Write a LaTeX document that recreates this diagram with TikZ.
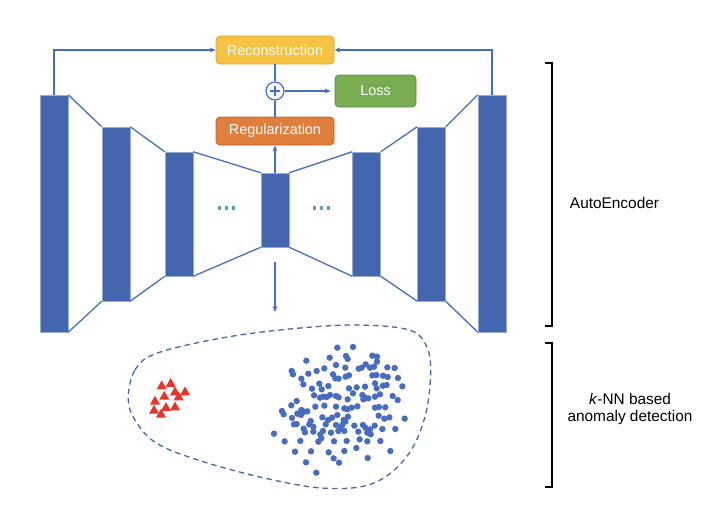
\documentclass[tikz,border=0pt]{standalone}
\usepackage{fontspec}
\setmainfont{Liberation Sans}
\usetikzlibrary{arrows.meta,calc}
\definecolor{barblue}{RGB}{68,102,174}
\definecolor{lineblue}{RGB}{70,110,192}
\definecolor{dotblue}{RGB}{72,108,190}
\definecolor{ellblue}{RGB}{91,155,213}
\definecolor{recfill}{RGB}{245,194,66}
\definecolor{recdraw}{RGB}{214,168,50}
\definecolor{regfill}{RGB}{224,126,62}
\definecolor{regdraw}{RGB}{192,102,46}
\definecolor{lossfill}{RGB}{120,173,81}
\definecolor{lossdraw}{RGB}{92,140,62}
\definecolor{trired}{RGB}{232,52,40}
\begin{document}
\begin{tikzpicture}[x=1pt,y=-1pt,
  layer/.style={rectangle, fill=barblue, draw=barblue!55!white, line width=0.5pt, minimum width=28pt, inner sep=0pt},
  conn/.style={draw=lineblue, line width=1.3pt},
  arr/.style={conn, -{Stealth[length=6pt,width=5pt]}},
  box/.style={rectangle, rounded corners=4pt, line width=0.8pt, minimum height=28pt, text=white, font=\fontsize{14.4}{16}\selectfont, inner sep=0pt},
  lbl/.style={font=\fontsize{15.4}{16.5}\selectfont, align=center},
  brk/.style={draw=black, line width=1.2pt},
  ell/.style={fill=ellblue}
]
\useasboundingbox (0,0) rectangle (705,531);

% layers
\node[layer, minimum height=237pt] (b1) at (54,213.5) {};
\node[layer, minimum height=174pt] (b2) at (116,214) {};
\node[layer, minimum height=124pt] (b3) at (179,214) {};
\node[layer, minimum height=74pt]  (b4) at (275,210) {};
\node[layer, minimum height=124pt] (b5) at (366.5,214) {};
\node[layer, minimum height=174pt] (b6) at (431.5,214) {};
\node[layer, minimum height=237pt] (b7) at (492,213.5) {};

\foreach \p/\q in {b1/b2,b2/b3,b3/b4,b4/b5,b5/b6,b6/b7}{
  \draw[conn] (\p.north east) -- (\q.north west);
  \draw[conn] (\p.south east) -- (\q.south west);
}

% ellipses
\foreach \x in {219.5,226.5,233.5,314.5,321.5,328.5}{
  \fill[ell] (\x-1.7,206.3) rectangle (\x+1.7,209.7);
}

% boxes
\node[box, fill=recfill, draw=recdraw, minimum width=118pt] (rec) at (275,50) {Reconstruction};
\node[box, fill=regfill, draw=regdraw, minimum width=118pt] (reg) at (275,131) {Regularization};
\node[box, fill=lossfill, draw=lossdraw, minimum width=81pt, minimum height=32pt] (loss) at (375.5,91) {Loss};
\node[circle, draw=lineblue, line width=1.2pt, fill=white, minimum size=18pt, inner sep=0pt] (plus) at (275,91) {};
\draw[lineblue, line width=1.1pt] ($(plus.center)+(-5,0)$) -- ($(plus.center)+(5,0)$);
\draw[lineblue, line width=1.1pt] ($(plus.center)+(0,-5)$) -- ($(plus.center)+(0,5)$);

\draw[conn] (rec) -- (plus);
\draw[conn] (plus) -- (reg);
\draw[arr, shorten >=4pt] (plus.east) -- (loss.west |- plus.east);
\draw[arr] (b4.north) -- (reg.south);
\draw[arr] (b1.north) |- (rec.west);
\draw[arr] (b7.north) |- (rec.east);
\coordinate (dA) at (275,262);
\coordinate (dB) at (275,312);
\draw[arr] (dA) -- (dB);

% brackets
\coordinate (t1) at (545,63); \coordinate (t2) at (552,63);
\coordinate (t3) at (552,326); \coordinate (t4) at (545,326);
\draw[brk] (t1) -- (t2) -- (t3) -- (t4);
\coordinate (u1) at (545,343); \coordinate (u2) at (552,343);
\coordinate (u3) at (552,487); \coordinate (u4) at (545,487);
\draw[brk] (u1) -- (u2) -- (u3) -- (u4);

\node[lbl] (ae) at (614.5,202.5) {AutoEncoder};
\node[lbl] (knn) at (630,409) {\textit{k}-NN based\\anomaly detection};

% dashed region
\draw[barblue, line width=1.3pt, dash pattern=on 5.5pt off 4pt]
  plot[smooth cycle, tension=0.6] coordinates {
  (128.3,398.3) (135,370) (156.7,353.3) (220,338.3) (286.7,329.3)
  (353.3,325) (406.7,329.3) (425,343.3) (430.7,370) (425,416.7)
  (406.7,456.7) (373.3,483.3) (326.7,488.3) (270,479.3) (203.3,461.7)
  (156.7,443.3) (135,420)};

% anomalies
\foreach \a/\b in {125/197,152/190,165/215,195/215,133/228,176/230,105/243,138/262,165/260,102/270,123/282}{
  \fill[trired] ({120+\a/3},{320+\b/3-5.2}) -- ++(5,8.8) -- ++(-10,0) -- cycle;
}

% normal points
\foreach \a/\b in {232/38,279/36,
209/68,258/63,263/72,337/62,351/65,139/77,351/80,
95/108,99/118,145/116,170/108,193/100,228/90,256/98,296/101,305/98,317/88,330/98,342/95,382/97,404/99,
124/131,130/148,178/146,219/118,226/130,236/131,257/125,267/121,337/121,349/120,369/122,383/126,414/129,
156/161,185/163,205/153,267/160,290/157,315/155,345/145,350/160,369/152,380/150,427/154,
162/181,180/188,190/185,200/186,210/180,228/183,236/187,263/193,279/175,307/180,315/188,325/190,345/185,360/178,398/183,413/195,
110/198,94/211,166/215,193/212,228/215,253/220,262/223,275/218,292/214,310/193,345/218,357/216,376/217,
66/228,71/238,96/249,112/236,124/225,133/230,142/229,123/240,187/247,216/248,232/240,251/255,264/245,256/260,356/242,373/251,388/247,434/251,
102/268,110/267,131/281,148/268,152/258,160/275,197/268,204/255,228/270,247/270,283/272,309/270,316/278,330/283,344/272,367/282,406/282,
42/296,135/292,160/290,181/298,189/288,213/293,235/288,242/280,253/288,295/290,322/293,332/298,
74/319,121/318,175/320,184/310,222/319,260/318,299/313,322/319,361/318,
105/350,153/349,206/352,253/348,289/339,391/348,
138/382,221/370,237/383,323/369,
169/413}{
  \fill[dotblue] ({260+\a/3},{335+\b/3}) circle[radius=3.2pt];
}
\end{tikzpicture}
\end{document}
